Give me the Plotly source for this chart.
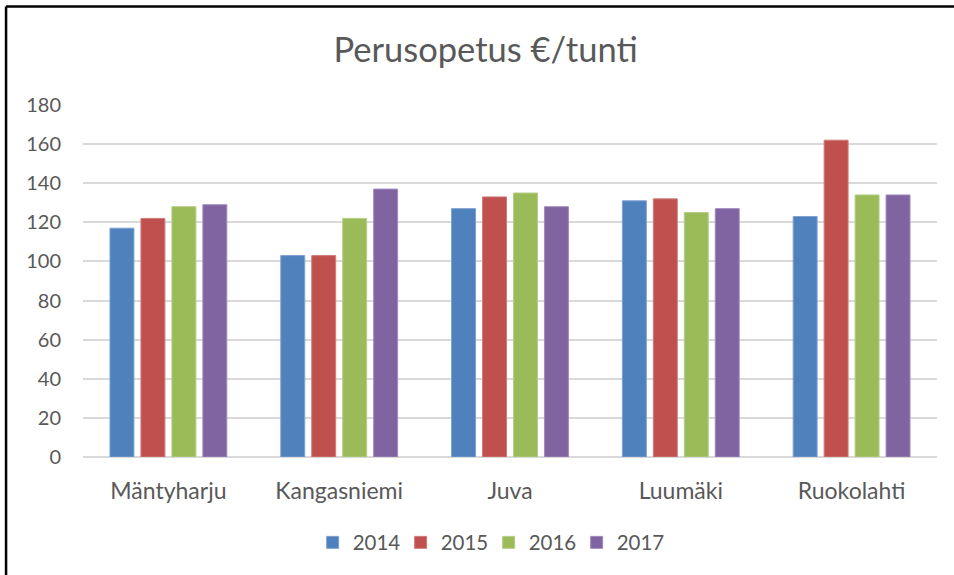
import plotly.graph_objects as go

# data
municipalities = ["Mäntyharju", "Kangasniemi", "Juva", "Luumäki", "Ruokolahti"]
years = ["2014", "2015", "2016", "2017"]
values_2014 = [117, 103, 127, 131, 123]
values_2015 = [122, 103, 133, 132, 162]
values_2016 = [128, 122, 135, 125, 134]
values_2017 = [129, 137, 128, 127, 134]
y_ticks = [0, 20, 40, 60, 80, 100, 120, 140, 160, 180]

series = [values_2014, values_2015, values_2016, values_2017]
colors = ["#4F81BD", "#C0504D", "#9BBB59", "#8064A2"]
edges = ["#7FA1CF", "#D07C7A", "#B5CE86", "#9F8BBD"]

FONT = "Lato, 'Open Sans', sans-serif"
TEXT = "#595959"

fig = go.Figure()
for year, vals, color, edge in zip(years, series, colors, edges):
    fig.add_trace(go.Bar(
        name=year,
        x=municipalities,
        y=vals,
        marker=dict(color=color, line=dict(color=edge, width=1)),
    ))

fig.update_layout(
    width=954,
    height=575,
    margin=dict(l=83, r=17, t=105, b=115),
    paper_bgcolor="white",
    plot_bgcolor="white",
    barmode="group",
    bargap=0.275,
    bargroupgap=0.226,
    font=dict(family=FONT, color=TEXT, size=20),
    title=dict(
        text="Perusopetus €/tunti",
        x=0.509, xanchor="center",
        y=0.913, yanchor="middle",
        font=dict(family=FONT, size=34.5, color=TEXT),
    ),
    legend=dict(
        orientation="h",
        x=0.475, xanchor="center",
        y=-0.243, yanchor="middle",
        font=dict(size=20.5, color=TEXT),
        itemwidth=30,
        entrywidth=43,
        traceorder="normal",
    ),
    yaxis=dict(
        range=[0, 180],
        tickvals=y_ticks,
        showgrid=True,
        gridcolor="#D9D9D9",
        gridwidth=1.5,
        zeroline=True,
        zerolinecolor="#D9D9D9",
        zerolinewidth=1.5,
        showline=False,
        ticks="",
        ticklabelstandoff=21,
        tickfont=dict(size=20, color=TEXT),
    ),
    xaxis=dict(
        showgrid=False,
        showline=False,
        ticks="",
        ticklabelstandoff=18,
        tickfont=dict(size=23, color=TEXT),
    ),
)

# black frame: only its left and top edges fall inside the picture
fig.add_shape(
    type="line", xref="paper", yref="paper",
    x0=-0.0901, x1=-0.0901, y0=-0.6, y1=1.2797,
    line=dict(color="black", width=2.5), layer="above",
)
fig.add_shape(
    type="line", xref="paper", yref="paper",
    x0=-0.0901, x1=1.2, y0=1.2797, y1=1.2797,
    line=dict(color="black", width=2.5), layer="above",
)

fig.write_html(
    "out.html",
    config={"displayModeBar": False},
    post_script="document.body.style.margin='0';",
)
